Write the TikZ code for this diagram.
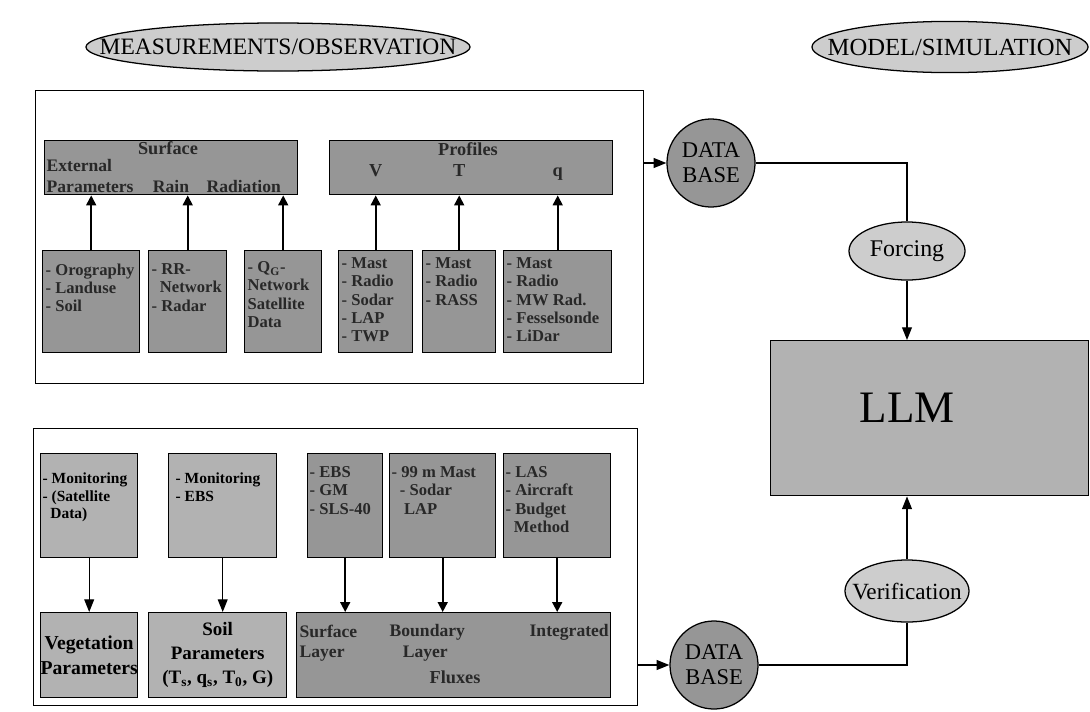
\documentclass[tikz,border=0pt]{standalone}
\usepackage{fontspec}
\setmainfont{Liberation Serif}
\usepackage{tikz}
\usetikzlibrary{positioning,calc,shapes.geometric,arrows.meta}
\definecolor{HatchDark}{RGB}{150,150,150}
\definecolor{HatchMid}{RGB}{178,178,178}
\definecolor{HatchLight}{RGB}{205,205,205}
\definecolor{InkGray}{RGB}{40,40,40}

\tikzset{
  obsbox/.style={draw, line width=1pt, fill=HatchDark, anchor=north west, inner sep=0pt},
  monbox/.style={draw, line width=1pt, fill=HatchMid, anchor=north west, inner sep=0pt},
  frame/.style={draw, line width=1pt, anchor=north west, inner sep=0pt},
  pbox/.style 2 args={minimum width=#1*0.025cm, minimum height=#2*0.025cm},
  listtext/.style={anchor=north west, align=left, inner sep=1pt, text=InkGray,
    font=\fontsize{11.8}{13}\selectfont\bfseries},
  titletext/.style={inner sep=1pt, text=InkGray, font=\fontsize{13}{15}\selectfont\bfseries},
  montext/.style={anchor=north west, align=left, inner sep=1pt,
    font=\fontsize{11}{12.5}\selectfont\bfseries},
  bigtext/.style={align=center, inner sep=1pt, font=\fontsize{14}{17.5}\selectfont\bfseries},
  oval/.style={ellipse, draw, line width=0.9pt, fill=HatchLight, inner ysep=0pt},
  ovalpath/.style={draw, line width=0.9pt, fill=HatchLight},
  dbase/.style={circle, draw, line width=0.9pt, fill=HatchDark, inner sep=0pt, align=center,
    minimum size=2.2cm, font=\fontsize{16}{18}\selectfont},
  uparrow/.style={line width=1.2pt, -{Triangle[length=7pt,width=7pt]}},
  flow/.style={line width=0.9pt, -{Triangle[length=9pt,width=7pt]}},
  link/.style={line width=0.9pt}
}

\begin{document}
\begin{tikzpicture}[x=0.025cm, y=-0.025cm]
  \useasboundingbox (0,0) rectangle (1090,711);

  % Titles
  \path[ovalpath] (278,47) ellipse [x radius=4.8cm, y radius=0.6cm];
  \node[font=\fontsize{16.7}{18}\selectfont, inner sep=0pt] (meas) at (278,47) {MEASUREMENTS/OBSERVATION};
  \path[ovalpath] (950,47) ellipse [x radius=3.45cm, y radius=0.64cm];
  \node[font=\fontsize{17.5}{19}\selectfont, inner sep=0pt] (model) at (950,47) {MODEL/SIMULATION};

  % Upper frame: surface and profiles
  \node[frame, pbox={608}{293}] (obsTop) at (35,90) {};
  \node[obsbox, pbox={253}{54}] (surf) at (44,140) {};
  \node[obsbox, pbox={283}{54}] (prof) at (329,140) {};
  \node[obsbox, pbox={97}{102}] (oro) at (42,250) {};
  \node[obsbox, pbox={78}{102}] (rr) at (148,250) {};
  \node[obsbox, pbox={77}{102}] (qg) at (244,250) {};
  \node[obsbox, pbox={74}{102}] (mastA) at (338,250) {};
  \node[obsbox, pbox={73}{102}] (mastB) at (422,250) {};
  \node[obsbox, pbox={108}{102}] (mastC) at (503,250) {};

  \node[titletext, anchor=base] (surfTitle) at (168,154) {Surface};
  \node[listtext, font=\fontsize{12.5}{15}\selectfont\bfseries, anchor=south west] (surfText)
    at ($(surf.south west)+(1,-1)$) {External\\Parameters\hspace{1.1em}Rain\hspace{1em}Radiation};
  \node[titletext, anchor=base] (profTitle) at (468,155) {Profiles};
  \foreach \b/\v in {mastA/V, mastB/T, mastC/q} {
    \node[titletext, anchor=base] at (\b.north |- 0,176) {\v};
  }

  \node[listtext] (oroText) at ($(oro.north west)+(2,12)$) {- Orography\\- Landuse\\- Soil};
  \node[listtext] (rrText) at ($(rr.north west)+(2,12)$) {- RR-\\\ \ Network\\- Radar};
  \node[listtext] (qgText) at ($(qg.north west)+(2,10)$) {- Q\textsubscript{G}-\\Network\\Satellite\\Data};
  \node[listtext] (mastAText) at ($(mastA.north west)+(2,6)$) {- Mast\\- Radio\\- Sodar\\- LAP\\- TWP};
  \node[listtext] (mastBText) at ($(mastB.north west)+(2,6)$) {- Mast\\- Radio\\- RASS};
  \node[listtext] (mastCText) at ($(mastC.north west)+(2,6)$) {- Mast\\- Radio\\- MW Rad.\\- Fesselsonde\\- LiDar};

  \foreach \b in {oro, rr, qg} {
    \draw[uparrow] (\b.north) -- (\b.north |- surf.south);
  }
  \foreach \b in {mastA, mastB, mastC} {
    \draw[uparrow] (\b.north) -- (\b.north |- prof.south);
  }

  % Lower frame: vegetation, soil and fluxes
  \node[frame, pbox={604}{277}] (obsBot) at (33,428) {};
  \node[monbox, pbox={97}{104}] (monA) at (40,453) {};
  \node[monbox, pbox={108}{104}] (monB) at (168,453) {};
  \node[obsbox, pbox={75}{104}] (ebs) at (307,453) {};
  \node[obsbox, pbox={106}{104}] (mast99) at (389,453) {};
  \node[obsbox, pbox={107}{104}] (las) at (503,453) {};
  \node[monbox, pbox={97}{85}] (veg) at (40,612) {};
  \node[monbox, pbox={138}{85}] (soil) at (148,612) {};
  \node[obsbox, pbox={314}{85}] (flux) at (296,612) {};

  \node[montext] (monAText) at ($(monA.north west)+(1,18)$) {- Monitoring\\- (Satellite\\\ \ Data)};
  \node[montext] (monBText) at ($(monB.north west)+(6,18)$) {- Monitoring\\- EBS};
  \node[listtext] (ebsText) at ($(ebs.north west)+(1,12)$) {- EBS\\- GM\\- SLS-40};
  \node[listtext] (mast99Text) at ($(mast99.north west)+(1,12)$) {- 99 m Mast\\\ \ - Sodar\\\ \ \ LAP};
  \node[listtext] (lasText) at ($(las.north west)+(1,12)$) {- LAS\\- Aircraft\\- Budget\\\ \ Method};

  \node[bigtext] (vegText) at (veg.center) {Vegetation\\Parameters};
  \node[bigtext, font=\fontsize{13.5}{17}\selectfont\bfseries] (soilText) at (soil.center)
    {Soil\\Parameters\\(T\textsubscript{s}, q\textsubscript{s}, T\textsubscript{0}, G)};
  \node[listtext, font=\fontsize{12.5}{14.5}\selectfont\bfseries] (fluxA) at ($(flux.north west)+(2,11)$) {Surface\\Layer};
  \node[listtext, font=\fontsize{12.5}{14.5}\selectfont\bfseries] (fluxB) at ($(flux.north west)+(92,11)$) {Boundary\\\ \ \ Layer};
  \node[listtext, font=\fontsize{12.5}{14.5}\selectfont\bfseries, anchor=north east] (fluxC) at ($(flux.north east)+(-1,11)$) {Integrated};
  \node[titletext, anchor=base] (fluxD) at (455,683) {Fluxes};

  \draw[flow] (monA.south) -- (veg.north -| monA.south);
  \draw[flow] (monB.south) -- (soil.north -| monB.south);
  \foreach \b in {ebs, mast99, las} {
    \draw[uparrow] (\b.south) -- (\b.south |- flux.north);
  }

  % Model side
  \node[dbase] (dbTop) at (711,163) {DATA\\BASE};
  \node[dbase] (dbBot) at (714,665) {DATA\\BASE};
  \node[oval, inner xsep=0pt, minimum width=2.9cm, minimum height=1.45cm,
    font=\fontsize{17}{19}\selectfont] (forcing) at (907,251) {Forcing};
  \node[oval, inner xsep=-0.29cm, minimum width=3.1cm, minimum height=1.55cm,
    font=\fontsize{16.5}{19}\selectfont] (verif) at (907,591) {Verification};
  \node[draw, line width=1pt, fill=HatchMid, pbox={318}{155}, anchor=north west] (llm) at (770,340) {};
  \node[font=\fontsize{32}{34}\selectfont, inner sep=0pt] (llmText) at (907,408) {LLM};

  \draw[flow] (obsTop.east |- dbTop.west) -- (dbTop.west);
  \draw[flow] (obsBot.east |- dbBot.west) -- (dbBot.west);
  \draw[link] (dbTop.east) -| (forcing.north);
  \draw[flow] (forcing.south) -- (forcing.south |- llm.north);
  \draw[link] (dbBot.east) -| (verif.south);
  \draw[flow] (verif.north) -- (verif.north |- llm.south);
\end{tikzpicture}
\end{document}
